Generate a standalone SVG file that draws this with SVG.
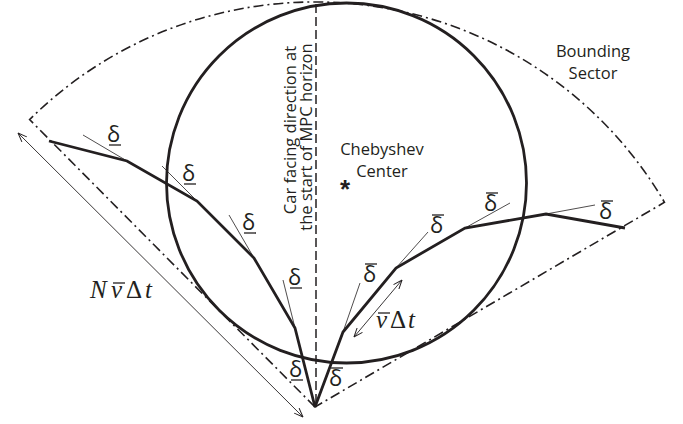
<svg xmlns="http://www.w3.org/2000/svg" width="683" height="424" viewBox="0 0 683 424">
<defs>
<style>
.thick{fill:none;stroke:#231f20;stroke-width:2.8;stroke-linejoin:miter;stroke-linecap:butt}
.thin{fill:none;stroke:#231f20;stroke-width:0.8}
.dd{fill:none;stroke:#231f20;stroke-width:1.6;stroke-dasharray:10 4 2 4}
.dash{fill:none;stroke:#231f20;stroke-width:1.5;stroke-dasharray:9 4}
.arrow{fill:none;stroke:#231f20;stroke-width:0.9;marker-start:url(#ah);marker-end:url(#ah)}
.lbl{font-family:"Open Sans","Noto Sans",sans-serif;font-size:16.5px;fill:#231f20}
.dl{font-family:"Open Sans","Noto Sans",sans-serif;font-size:22px;fill:#231f20}
.bar{stroke:#231f20;stroke-width:1.3}
.math{font-family:"Liberation Serif",serif;font-size:25px;fill:#231f20}
</style>
<marker id="ah" viewBox="0 0 10 8" refX="9.5" refY="4" markerWidth="10" markerHeight="8" markerUnits="userSpaceOnUse" orient="auto-start-reverse">
<path d="M0.5,0.5 L9.5,4 L0.5,7.5" fill="none" stroke="#231f20" stroke-width="1"/>
</marker>
</defs>
<rect width="683" height="424" fill="#ffffff"/>

<g id="bounding-sector">
<path class="dd" d="M315,407 L29.6,119.6 A405,405 0 0 1 664.5,202.3 Z"/>
<text class="lbl" x="593" y="57" text-anchor="middle">Bounding</text>
<text class="lbl" x="593" y="79" text-anchor="middle">Sector</text>
</g>

<g id="chebyshev-ball">
<circle class="thick" cx="346.5" cy="183" r="180"/>
<text x="345" y="198" font-family="Liberation Sans,sans-serif" font-size="26" font-weight="bold" fill="#231f20" text-anchor="middle">*</text>
<text class="lbl" x="382" y="155" text-anchor="middle">Chebyshev</text>
<text class="lbl" x="382" y="177" text-anchor="middle">Center</text>
</g>

<g id="facing-direction">
<line class="dash" x1="316" y1="4" x2="316" y2="407"/>
<text class="lbl" transform="translate(296,130) rotate(-90)" text-anchor="middle">Car facing direction at</text>
<text class="lbl" transform="translate(312,137) rotate(-90)" text-anchor="middle">the start of MPC horizon</text>
</g>

<g id="left-trajectory">
<polyline class="thick" points="315,407 295,328 254,258 197,201 127,161 49,141"/>
<line class="thin" x1="295" y1="328" x2="283" y2="280"/>
<line class="thin" x1="254" y1="258" x2="229" y2="215"/>
<line class="thin" x1="197" y1="201" x2="162" y2="166"/>
<line class="thin" x1="127" y1="161" x2="83" y2="135"/>
<text class="dl" x="107" y="142">δ</text><line class="bar" x1="109" y1="145" x2="121" y2="145"/>
<text class="dl" x="182" y="181">δ</text><line class="bar" x1="184" y1="184" x2="196" y2="184"/>
<text class="dl" x="242" y="230">δ</text><line class="bar" x1="244" y1="233" x2="256" y2="233"/>
<text class="dl" x="288" y="285">δ</text><line class="bar" x1="290" y1="288" x2="302" y2="288"/>
<text class="dl" x="289" y="377">δ</text><line class="bar" x1="291" y1="380" x2="303" y2="380"/>
</g>

<g id="right-trajectory">
<polyline class="thick" points="315,407 343,332 396,268 465,228 546,214 625,228"/>
<line class="thin" x1="343" y1="332" x2="360" y2="283"/>
<line class="thin" x1="396" y1="268" x2="428" y2="232"/>
<line class="thin" x1="465" y1="228" x2="510" y2="203"/>
<line class="thin" x1="546" y1="214" x2="595" y2="205"/>
<text class="dl" x="329" y="386">δ</text><line class="bar" x1="331" y1="368" x2="343" y2="368"/>
<text class="dl" x="363" y="282">δ</text><line class="bar" x1="365" y1="264" x2="377" y2="264"/>
<text class="dl" x="430" y="233">δ</text><line class="bar" x1="432" y1="215" x2="444" y2="215"/>
<text class="dl" x="484" y="211">δ</text><line class="bar" x1="486" y1="193" x2="498" y2="193"/>
<text class="dl" x="599" y="219">δ</text><line class="bar" x1="601" y1="201" x2="613" y2="201"/>
</g>

<g id="connectors">
<line class="arrow" x1="18" y1="133" x2="303" y2="417"/>
<line class="arrow" x1="354" y1="337" x2="402" y2="280"/>
</g>

<g id="horizon-length">
<text class="math" y="298"><tspan x="90" font-style="italic">N</tspan><tspan x="111" font-style="italic">v</tspan><tspan x="126">Δ</tspan><tspan x="145" font-style="italic">t</tspan></text>
<line class="bar" x1="113" y1="283" x2="125" y2="283"/>
</g>

<g id="step-length">
<text class="math" y="328"><tspan x="376" font-style="italic">v</tspan><tspan x="390">Δ</tspan><tspan x="408" font-style="italic">t</tspan></text>
<line class="bar" x1="378" y1="313" x2="390" y2="313"/>
</g>
</svg>
